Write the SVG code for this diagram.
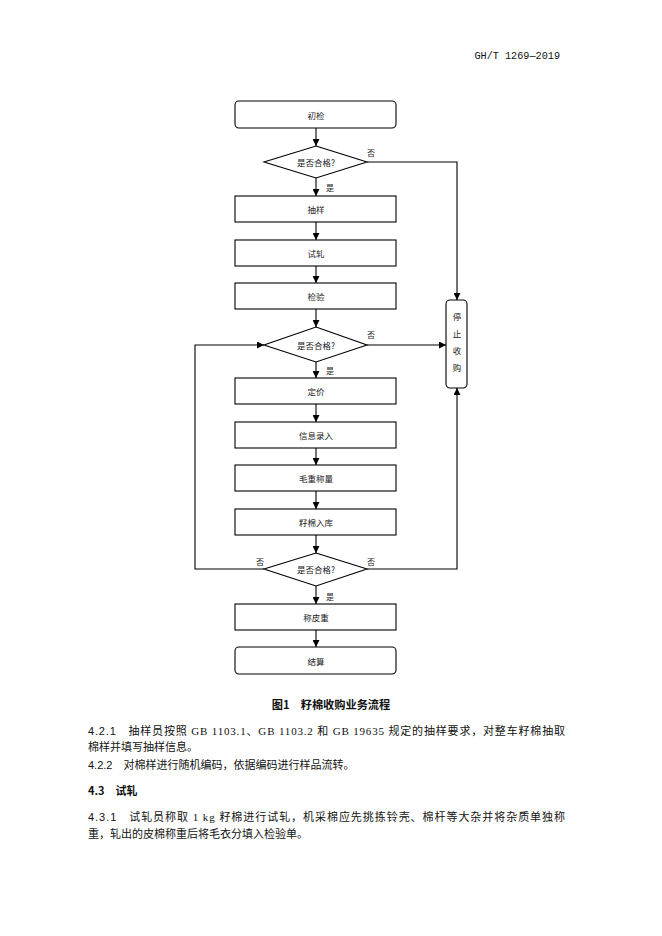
<svg xmlns="http://www.w3.org/2000/svg" width="662" height="936" viewBox="0 0 662 936">
<defs>
<marker id="arr" viewBox="0 0 10 10" refX="10" refY="5" markerWidth="7" markerHeight="7" markerUnits="userSpaceOnUse" orient="auto">
<path d="M0,0 L10,5 L0,10 z" fill="#000"/>
</marker>
<style>
.box{fill:#fff;stroke:#000;stroke-width:1.1}
.lbl{font-family:"Noto Sans CJK SC","Noto Sans",sans-serif;font-size:8.5px;fill:#222;text-anchor:middle;dominant-baseline:central}
.yn{font-family:"Noto Sans CJK SC","Noto Sans",sans-serif;font-size:8px;fill:#222;text-anchor:middle;dominant-baseline:central}
.con{fill:none;stroke:#000;stroke-width:1.1}
.body{font-family:"Liberation Serif","Noto Sans CJK SC",serif;font-size:11px;fill:#111}
.num{font-family:"Liberation Sans","Noto Sans CJK SC",sans-serif}
</style>
</defs>
<rect width="662" height="936" fill="#fff"/>
<text x="560" y="59" font-family="'Liberation Mono','Noto Sans CJK SC',monospace" font-size="10.2" text-anchor="end" fill="#111">GH/T 1269—2019</text>

<g id="connectors">
<line class="con" x1="316" y1="128" x2="316" y2="146" marker-end="url(#arr)"/>
<line class="con" x1="316" y1="178" x2="316" y2="196" marker-end="url(#arr)"/>
<line class="con" x1="316" y1="222" x2="316" y2="240" marker-end="url(#arr)"/>
<line class="con" x1="316" y1="266" x2="316" y2="283" marker-end="url(#arr)"/>
<line class="con" x1="316" y1="309" x2="316" y2="327" marker-end="url(#arr)"/>
<line class="con" x1="316" y1="362" x2="316" y2="378" marker-end="url(#arr)"/>
<line class="con" x1="316" y1="404" x2="316" y2="422" marker-end="url(#arr)"/>
<line class="con" x1="316" y1="448" x2="316" y2="465" marker-end="url(#arr)"/>
<line class="con" x1="316" y1="491" x2="316" y2="509" marker-end="url(#arr)"/>
<line class="con" x1="316" y1="535" x2="316" y2="553" marker-end="url(#arr)"/>
<line class="con" x1="316" y1="586" x2="316" y2="604" marker-end="url(#arr)"/>
<line class="con" x1="316" y1="630" x2="316" y2="647" marker-end="url(#arr)"/>
<polyline class="con" points="367,162 457,162 457,300" marker-end="url(#arr)"/>
<line class="con" x1="367" y1="345" x2="446" y2="345" marker-end="url(#arr)"/>
<polyline class="con" points="367,569 457,569 457,388" marker-end="url(#arr)"/>
<polyline class="con" points="264,569 195,569 195,345 264,345" marker-end="url(#arr)" stroke="#333" stroke-width="1.4"/>
<text class="yn" x="371" y="152">否</text>
<text class="yn" x="330" y="187">是</text>
<text class="yn" x="371" y="334">否</text>
<text class="yn" x="330" y="370">是</text>
<text class="yn" x="260" y="561">否</text>
<text class="yn" x="371" y="561">否</text>
<text class="yn" x="330" y="596">是</text>
</g>

<g id="n-chujian"><rect class="box" x="235" y="101" width="161" height="27" rx="4"/><text class="lbl" x="316" y="115">初检</text></g>
<g id="n-d1"><polygon class="box" points="316,146 367,162 316,178 264,162"/><text class="lbl" x="316" y="162">是否合格?</text></g>
<g id="n-chouyang"><rect class="box" x="235" y="196" width="161" height="26"/><text class="lbl" x="316" y="209">抽样</text></g>
<g id="n-shiya"><rect class="box" x="235" y="240" width="161" height="26"/><text class="lbl" x="316" y="253">试轧</text></g>
<g id="n-jianyan"><rect class="box" x="235" y="283" width="161" height="26"/><text class="lbl" x="316" y="296">检验</text></g>
<g id="n-d2"><polygon class="box" points="316,327 367,345 316,362 264,345"/><text class="lbl" x="316" y="345">是否合格?</text></g>
<g id="n-dingjia"><rect class="box" x="235" y="378" width="161" height="26"/><text class="lbl" x="316" y="391">定价</text></g>
<g id="n-xinxi"><rect class="box" x="235" y="422" width="161" height="26"/><text class="lbl" x="316" y="435">信息录入</text></g>
<g id="n-maozhong"><rect class="box" x="235" y="465" width="161" height="26"/><text class="lbl" x="316" y="478">毛重称量</text></g>
<g id="n-ruku"><rect class="box" x="235" y="509" width="161" height="26"/><text class="lbl" x="316" y="522">籽棉入库</text></g>
<g id="n-d3"><polygon class="box" points="316,553 367,569 316,586 264,569"/><text class="lbl" x="316" y="569">是否合格?</text></g>
<g id="n-pizhong"><rect class="box" x="235" y="604" width="161" height="26"/><text class="lbl" x="316" y="617">称皮重</text></g>
<g id="n-jiesuan"><rect class="box" x="235" y="647" width="161" height="27" rx="4"/><text class="lbl" x="316" y="661">结算</text></g>
<g id="n-stop"><rect class="box" x="446" y="300" width="21" height="88" rx="4"/>
<text class="lbl" x="457" y="316">停</text><text class="lbl" x="457" y="333">止</text><text class="lbl" x="457" y="350">收</text><text class="lbl" x="457" y="367">购</text></g>

<text x="331" y="709" font-family="'Noto Sans CJK SC',sans-serif" font-size="11.2" font-weight="bold" text-anchor="middle" fill="#111">图1　籽棉收购业务流程</text>
<text class="body" x="88" y="735" textLength="477" lengthAdjust="spacing"><tspan class="num">4.2.1</tspan>　抽样员按照 GB 1103.1、GB 1103.2 和 GB 19635 规定的抽样要求，对整车籽棉抽取</text>
<text class="body" x="88" y="751">棉样并填写抽样信息。</text>
<text class="body" x="88" y="769"><tspan class="num">4.2.2</tspan>　对棉样进行随机编码，依据编码进行样品流转。</text>
<text x="88" y="795" font-family="'Noto Sans CJK SC',sans-serif" font-size="11" font-weight="bold" fill="#111">4.3　试轧</text>
<text class="body" x="88" y="821" textLength="477" lengthAdjust="spacing"><tspan class="num">4.3.1</tspan>　试轧员称取 1 kg 籽棉进行试轧，机采棉应先挑拣铃壳、棉杆等大杂并将杂质单独称</text>
<text class="body" x="88" y="838">重，轧出的皮棉称重后将毛衣分填入检验单。</text>
</svg>
